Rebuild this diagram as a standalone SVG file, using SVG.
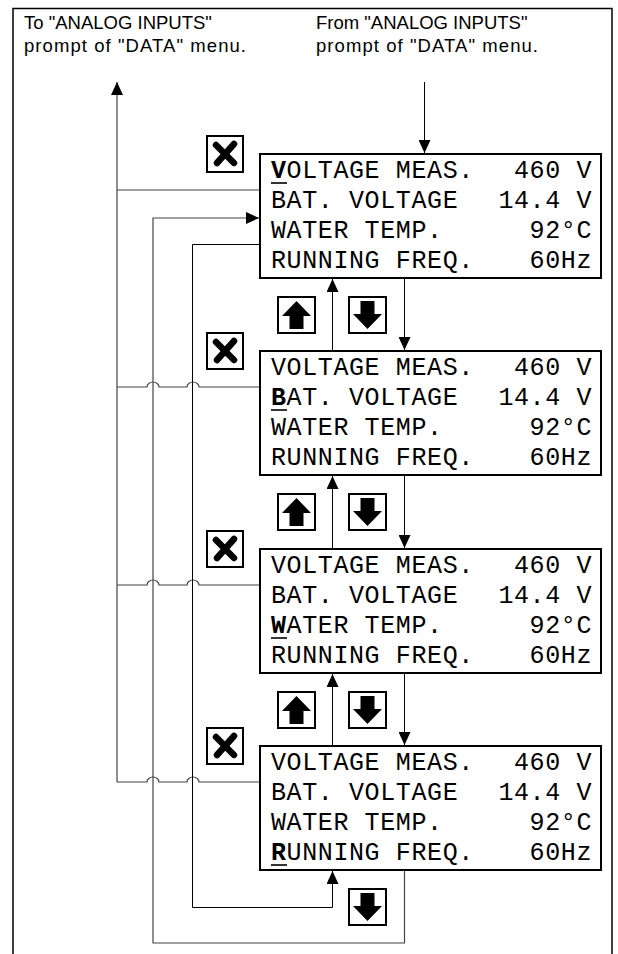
<svg xmlns="http://www.w3.org/2000/svg" width="618" height="954" viewBox="0 0 618 954">
<style>
.hdr{font-family:"Liberation Sans",Arial,sans-serif;font-size:18.5px;fill:#000}
.lcd{font-family:"Liberation Mono","Courier New",monospace;font-size:25px;letter-spacing:0.6px;fill:#000}
.val{font-family:"Liberation Mono","Courier New",monospace;font-size:25px;letter-spacing:0.6px;fill:#000;text-anchor:end}
.scr{fill:#fff;stroke:#000;stroke-width:2}
.btn{fill:#fff;stroke:#000;stroke-width:2}
.cur{stroke:#000;stroke-width:1.6}
.ln{fill:none;stroke:#000;stroke-width:1}
.gl{fill:none;stroke:#444;stroke-width:1.2}
.xg{fill:none;stroke:#000;stroke-width:6.5;stroke-linecap:round}
</style>
<defs>
<marker id="ah" markerUnits="userSpaceOnUse" markerWidth="14" markerHeight="12" refX="13" refY="6" orient="auto">
<path d="M0,0 L13,6 L0,12 z" fill="#000"/>
</marker>
<g id="xicon"><rect class="btn" x="0" y="0" width="36" height="36"/><path class="xg" d="M9,9 L27,27 M27,8 L10,27"/></g>
<g id="upicon"><rect class="btn" x="0" y="0" width="37" height="36"/><path d="M18.5,4 L33,19 L25.5,19 L25.5,32 L11.5,32 L11.5,19 L4,19 z" fill="#000"/></g>
<g id="dnicon"><rect class="btn" x="0" y="0" width="37" height="36"/><path d="M11.5,4 L25.5,4 L25.5,17 L33,17 L18.5,32 L4,17 L11.5,17 z" fill="#000"/></g>
</defs>
<rect x="0" y="0" width="618" height="954" fill="#fff"/>
<path d="M13,960 V8.5 H612 V960" fill="none" stroke="#000" stroke-width="1.5"/>
<g id="label-to">
<text class="hdr" x="24" y="29">To "ANALOG INPUTS"</text>
<text class="hdr" x="24" y="52" textLength="222" lengthAdjust="spacing">prompt of "DATA" menu.</text>
</g>
<g id="label-from">
<text class="hdr" x="316" y="29">From "ANALOG INPUTS"</text>
<text class="hdr" x="316" y="52" textLength="222" lengthAdjust="spacing">prompt of "DATA" menu.</text>
</g>
<g id="connectors">
<path class="ln" d="M424.5,82 V153" marker-end="url(#ah)"/>
<path class="gl" d="M117,782 V82" marker-end="url(#ah)"/>
<path class="gl" d="M117,190 H259"/>
<path class="gl" d="M117,387 H147 A6,5 0 0 1 159,387 H187 A6,5 0 0 1 199,387 H259"/>
<path class="gl" d="M117,585 H147 A6,5 0 0 1 159,585 H187 A6,5 0 0 1 199,585 H259"/>
<path class="gl" d="M117,782 H147 A6,5 0 0 1 159,782 H187 A6,5 0 0 1 199,782 H259"/>
<path class="gl" d="M404.5,871 V943 H153 V218 H259" marker-end="url(#ah)"/>
<path class="ln" d="M259,244.5 H192.5 V907.5 H332.5 V871" marker-end="url(#ah)"/>
<path class="ln" d="M332.5,350 V279" marker-end="url(#ah)"/>
<path class="ln" d="M404.5,279 V350" marker-end="url(#ah)"/>
<path class="ln" d="M332.5,548 V476" marker-end="url(#ah)"/>
<path class="ln" d="M404.5,476 V548" marker-end="url(#ah)"/>
<path class="ln" d="M332.5,745 V674" marker-end="url(#ah)"/>
<path class="ln" d="M404.5,674 V745" marker-end="url(#ah)"/>
</g>
<g id="screen1">
<rect class="scr" x="260" y="154" width="341" height="124"/>
<text class="lcd" x="271" y="178"><tspan font-weight="bold">V</tspan>OLTAGE MEAS.</text><text class="val" x="592" y="178">460 V</text>
<line class="cur" x1="271" y1="183" x2="287" y2="183"/>
<text class="lcd" x="271" y="208">BAT. VOLTAGE</text><text class="val" x="592" y="208">14.4 V</text>
<text class="lcd" x="271" y="238">WATER TEMP.</text><text class="val" x="592" y="238">92°C</text>
<text class="lcd" x="271" y="268">RUNNING FREQ.</text><text class="val" x="592" y="268">60Hz</text>
</g>
<g id="screen2">
<rect class="scr" x="260" y="351" width="341" height="124"/>
<text class="lcd" x="271" y="375">VOLTAGE MEAS.</text><text class="val" x="592" y="375">460 V</text>
<text class="lcd" x="271" y="405"><tspan font-weight="bold">B</tspan>AT. VOLTAGE</text><text class="val" x="592" y="405">14.4 V</text>
<line class="cur" x1="271" y1="410" x2="287" y2="410"/>
<text class="lcd" x="271" y="435">WATER TEMP.</text><text class="val" x="592" y="435">92°C</text>
<text class="lcd" x="271" y="465">RUNNING FREQ.</text><text class="val" x="592" y="465">60Hz</text>
</g>
<g id="screen3">
<rect class="scr" x="260" y="549" width="341" height="124"/>
<text class="lcd" x="271" y="573">VOLTAGE MEAS.</text><text class="val" x="592" y="573">460 V</text>
<text class="lcd" x="271" y="603">BAT. VOLTAGE</text><text class="val" x="592" y="603">14.4 V</text>
<text class="lcd" x="271" y="633"><tspan font-weight="bold">W</tspan>ATER TEMP.</text><text class="val" x="592" y="633">92°C</text>
<line class="cur" x1="271" y1="638" x2="287" y2="638"/>
<text class="lcd" x="271" y="663">RUNNING FREQ.</text><text class="val" x="592" y="663">60Hz</text>
</g>
<g id="screen4">
<rect class="scr" x="260" y="746" width="341" height="124"/>
<text class="lcd" x="271" y="770">VOLTAGE MEAS.</text><text class="val" x="592" y="770">460 V</text>
<text class="lcd" x="271" y="800">BAT. VOLTAGE</text><text class="val" x="592" y="800">14.4 V</text>
<text class="lcd" x="271" y="830">WATER TEMP.</text><text class="val" x="592" y="830">92°C</text>
<text class="lcd" x="271" y="860"><tspan font-weight="bold">R</tspan>UNNING FREQ.</text><text class="val" x="592" y="860">60Hz</text>
<line class="cur" x1="271" y1="865" x2="287" y2="865"/>
</g>
<g id="esc1"><use href="#xicon" x="207" y="136"/></g>
<g id="esc2"><use href="#xicon" x="207" y="333"/></g>
<g id="esc3"><use href="#xicon" x="207" y="531"/></g>
<g id="esc4"><use href="#xicon" x="207" y="728"/></g>
<g id="up1"><use href="#upicon" x="278" y="297"/></g>
<g id="down1"><use href="#dnicon" x="349" y="297"/></g>
<g id="up2"><use href="#upicon" x="278" y="494"/></g>
<g id="down2"><use href="#dnicon" x="349" y="494"/></g>
<g id="up3"><use href="#upicon" x="278" y="692"/></g>
<g id="down3"><use href="#dnicon" x="349" y="692"/></g>
<g id="down4"><use href="#dnicon" x="349" y="889"/></g>
</svg>
